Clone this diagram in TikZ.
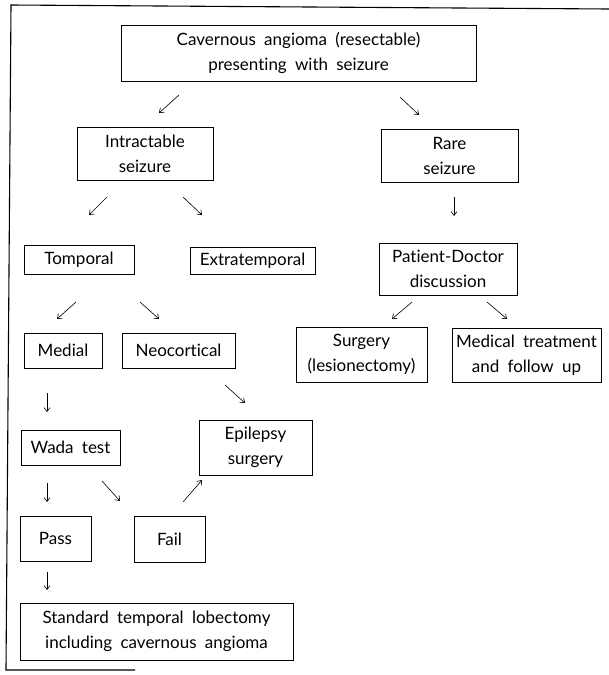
\documentclass[tikz,border=0pt]{standalone}
\usepackage{fontspec}
\setmainfont{Lato}[WordSpace=1.9,Ligatures=NoCommon]
\usetikzlibrary{arrows.meta}
\newcommand\bxfont{\fontsize{17}{25}\selectfont}
\begin{document}
\begin{tikzpicture}[x=1pt,y=-1pt,
  box/.style={draw, line width=0.8pt, inner sep=0pt, align=center,
    font=\bxfont},
  arr/.style={-{Straight Barb[length=4pt,width=6pt]}, line width=0.6pt},
  frameline/.style={line width=1.1pt}]
\useasboundingbox (0,0) rectangle (609,675);
% frame
\coordinate (f1) at (11,5);
\coordinate (f2) at (609,9);
\coordinate (f3) at (6,670);
\coordinate (f4) at (135,670);
\draw[frameline] (f2) -- (f1) -- (f3) -- (f4);
% boxes
\node[box, minimum width=355pt, minimum height=56pt] (top) at (298.5,53) {Cavernous angioma (resectable)\\presenting with seizure};
\node[box, minimum width=136pt, minimum height=53pt] (intr) at (145,153.5) {Intractable\\seizure};
\node[box, minimum width=137pt, minimum height=53pt] (rare) at (449.5,155.5) {Rare\\seizure};
\node[box, minimum width=110pt, minimum height=29pt] (temp) at (79,259.5) {Tomporal};
\node[box, minimum width=125pt, minimum height=27pt] (extra) at (252.5,260.5) {Extratemporal};
\node[box, minimum width=138pt, minimum height=52pt] (pd) at (448,269) {Patient-Doctor\\discussion};
\node[box, minimum width=78pt, minimum height=35pt] (medial) at (63,350.5) {Medial};
\node[box, minimum width=113pt, minimum height=35pt] (neo) at (178.5,350.5) {Neocortical};
\node[box, minimum width=131pt, minimum height=55pt] (surg) at (361.5,354.5) {Surgery\\(lesionectomy)};
\node[box, minimum width=149pt, minimum height=54pt] (med) at (526.5,355) {Medical treatment\\and follow up};
\node[box, minimum width=99pt, minimum height=35pt] (wada) at (70.5,447.5) {Wada test};
\node[box, minimum width=113pt, minimum height=55pt] (epi) at (255.5,447.5) {Epilepsy\\surgery};
\node[box, minimum width=71pt, minimum height=45pt] (pass) at (55.5,538.5) {Pass};
\node[box, minimum width=71pt, minimum height=46pt] (fail) at (169.5,539) {Fail};
\node[box, minimum width=273pt, minimum height=57pt] (std) at (156.5,631.5) {Standard temporal lobectomy\\including cavernous angioma};
% arrow end points
\coordinate (a1s) at (179,95);  \coordinate (a1e) at (159,113);
\coordinate (a2s) at (400,97);  \coordinate (a2e) at (419,115);
\coordinate (a3s) at (107,197); \coordinate (a3e) at (89,215);
\coordinate (a4s) at (183,197); \coordinate (a4e) at (202,215);
\coordinate (a5s) at (454,197); \coordinate (a5e) at (454,216);
\coordinate (a6s) at (76,302);  \coordinate (a6e) at (57,319);
\coordinate (a7s) at (140,302); \coordinate (a7e) at (159,319);
\coordinate (a8s) at (412,302); \coordinate (a8e) at (392,319);
\coordinate (a9s) at (487,302); \coordinate (a9e) at (507,319);
\coordinate (a10s) at (47,393); \coordinate (a10e) at (47,412);
\coordinate (a11s) at (225,385); \coordinate (a11e) at (245,403);
\coordinate (a12s) at (47,483); \coordinate (a12e) at (47,502);
\coordinate (a13s) at (102,481); \coordinate (a13e) at (120,501);
\coordinate (a14s) at (183,502); \coordinate (a14e) at (202,480);
\coordinate (a15s) at (47,572); \coordinate (a15e) at (47,590);
\foreach \i in {1,...,15} { \draw[arr] (a\i s) -- (a\i e); }
\end{tikzpicture}
\end{document}
